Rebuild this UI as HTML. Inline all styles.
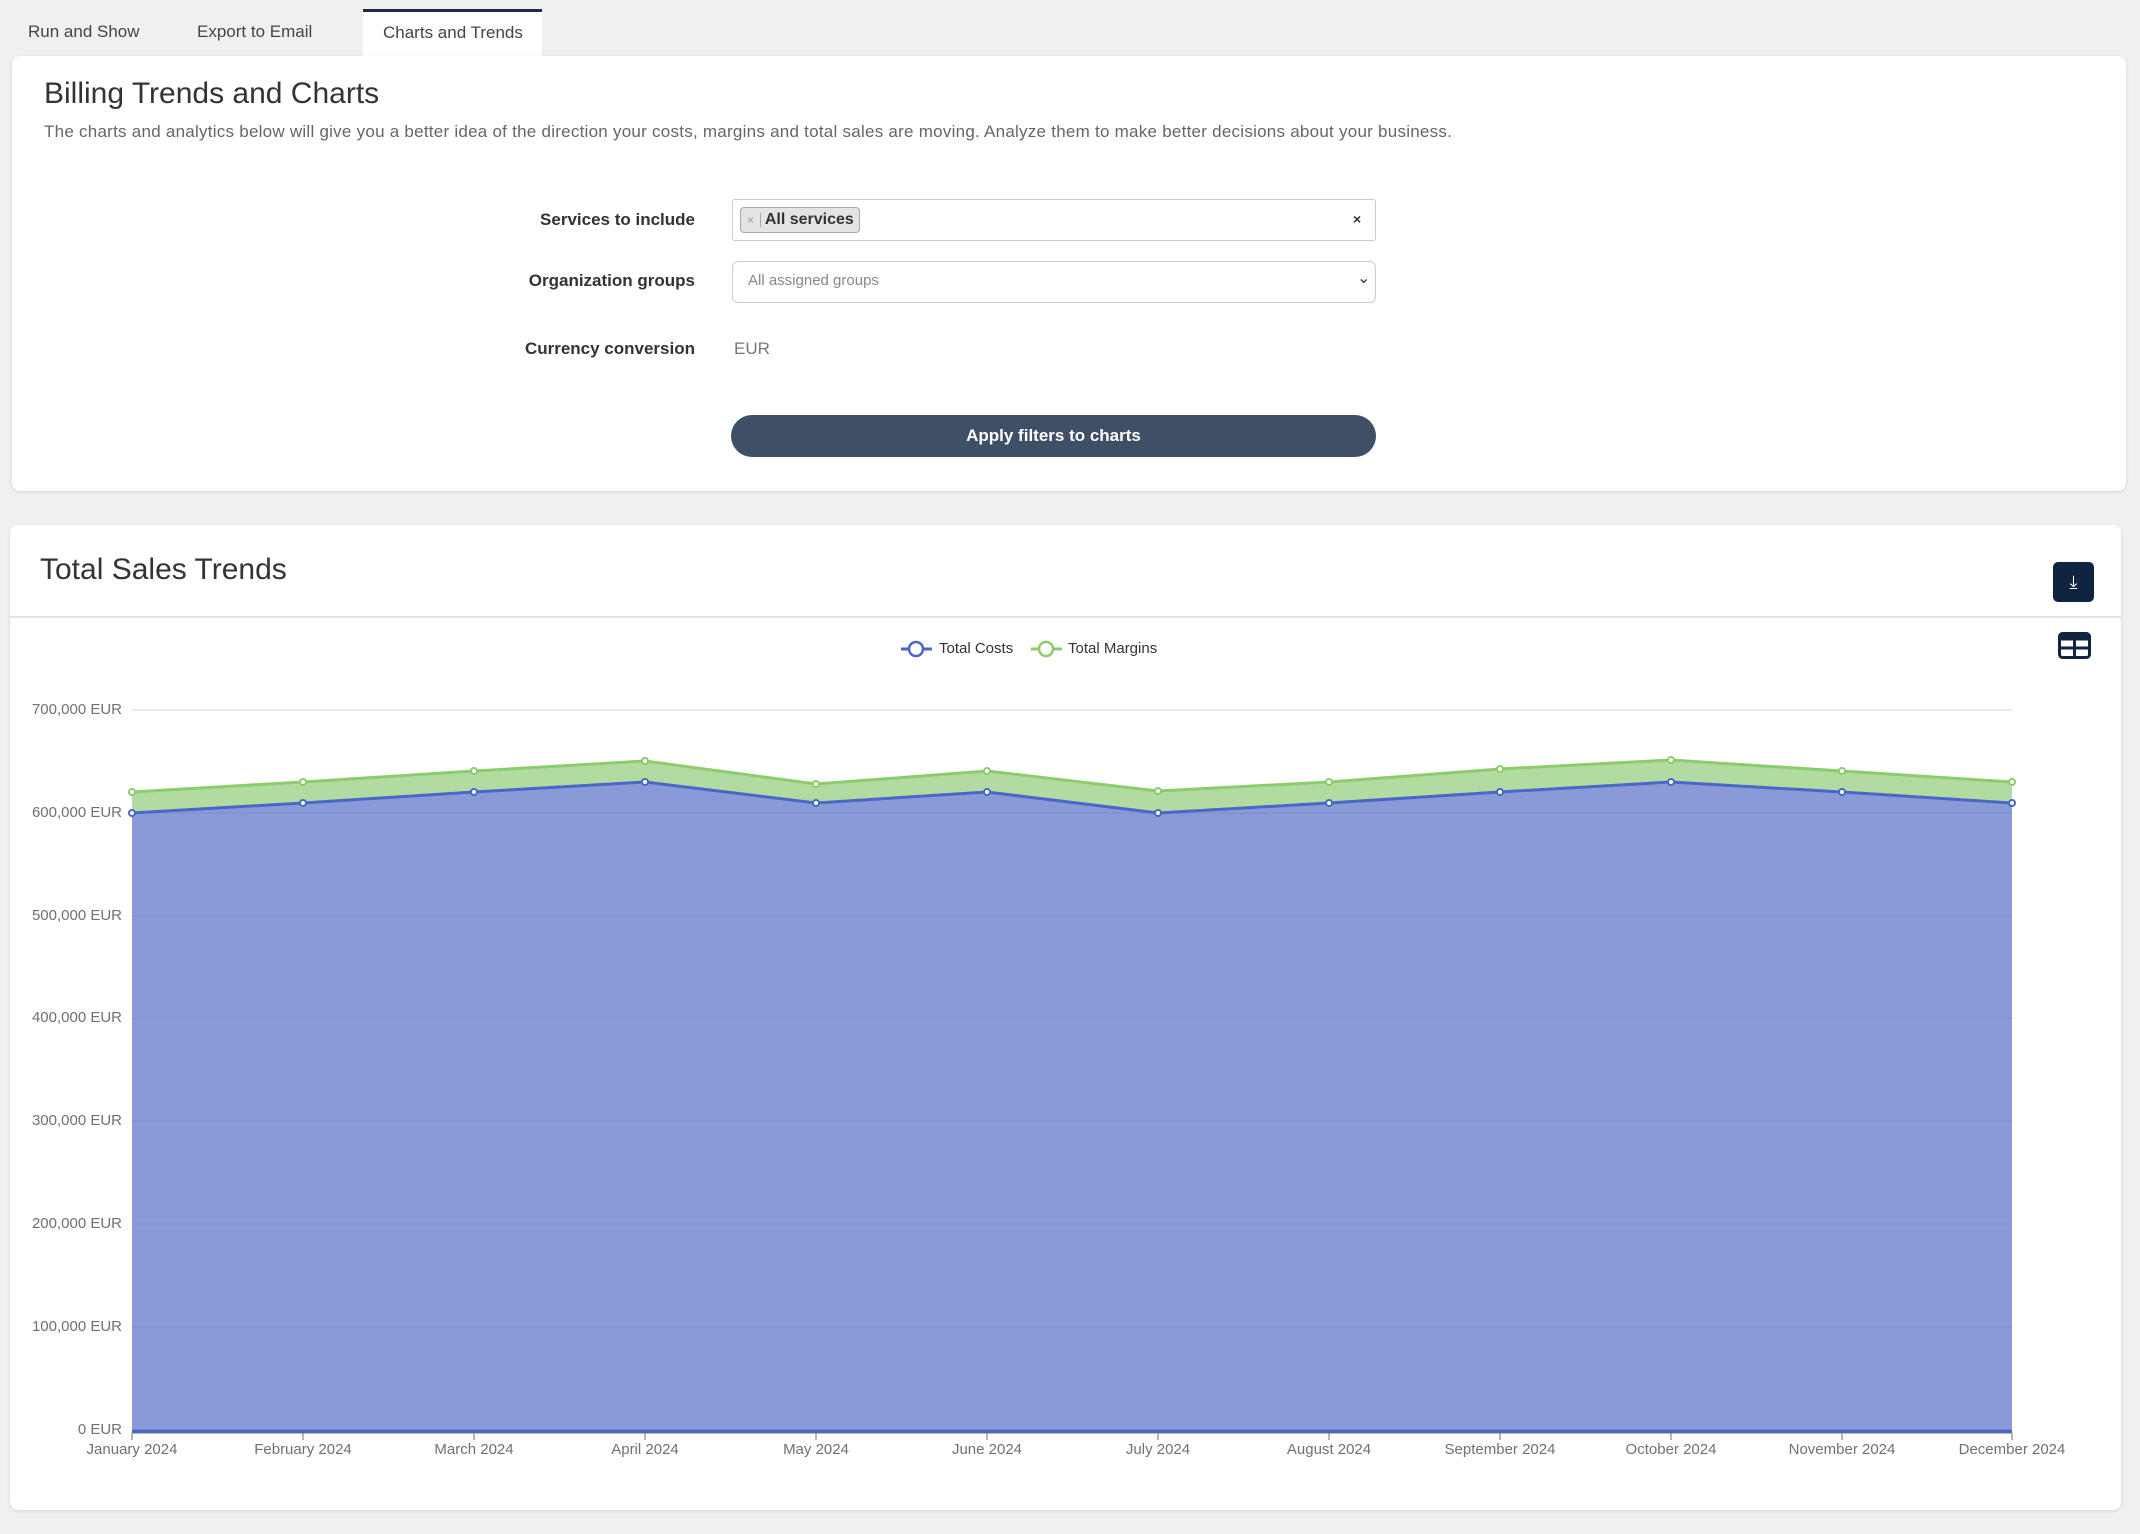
<!DOCTYPE html>
<html><head><meta charset="utf-8"><style>
body{margin:0;width:2140px;height:1534px;background:#f0f0f0;font-family:"Liberation Sans",sans-serif;position:relative;overflow:hidden;color:#333}
.a{position:absolute}
.tab{font-size:17px;color:#444;top:22px}
.card{background:#fff;border-radius:8px;box-shadow:0 1px 3px rgba(0,0,0,.12)}
.lbl{font-size:17px;font-weight:bold;color:#333;text-align:right;width:300px;left:395px}
</style></head><body>
<div class="a tab" style="left:28px">Run and Show</div>
<div class="a tab" style="left:197px">Export to Email</div>
<div class="a" style="left:363px;top:9px;width:179px;height:50px;background:#fff;border-top:3px solid #1d2b44"></div>
<div class="a tab" style="left:383px;top:23px">Charts and Trends</div>

<div class="a card" style="left:12px;top:56px;width:2114px;height:435px"></div>
<div class="a" style="left:44px;top:77px;font-size:30px;color:#333">Billing Trends and Charts</div>
<div class="a" style="left:44px;top:122px;font-size:17px;color:#666;letter-spacing:0.25px">The charts and analytics below will give you a better idea of the direction your costs, margins and total sales are moving. Analyze them to make better decisions about your business.</div>
<div class="a lbl" style="top:210px">Services to include</div>
<div class="a" style="left:732px;top:199px;width:642px;height:40px;border:1px solid #ccc;border-radius:3px;background:#fff"></div>
<div class="a" style="left:740px;top:207px;width:118px;height:24px;border:1px solid #aaa;border-radius:4px;background:#e4e4e4;font-size:16px;font-weight:bold;line-height:24px"><span style="color:#999;font-weight:normal;font-size:12px;padding:0 6px;border-right:1px solid #aaa">×</span> All services</div>
<div class="a" style="left:1353px;top:211px;font-size:14px;font-weight:bold">×</div>
<div class="a lbl" style="top:271px">Organization groups</div>
<div class="a" style="left:732px;top:261px;width:642px;height:40px;border:1px solid #ccc;border-radius:6px;background:#fff"></div>
<div class="a" style="left:748px;top:272px;font-size:15px;color:#888">All assigned groups</div>
<div class="a" style="left:1357px;top:268px;font-size:16px;color:#333">⌄</div>
<div class="a lbl" style="top:339px">Currency conversion</div>
<div class="a" style="left:734px;top:339px;font-size:17px;color:#777">EUR</div>
<div class="a" style="left:731px;top:415px;width:645px;height:42px;border-radius:21px;background:#3f5066;color:#fff;font-size:17px;font-weight:bold;text-align:center;line-height:42px">Apply filters to charts</div>

<div class="a card" style="left:10px;top:525px;width:2111px;height:985px"></div>
<div class="a" style="left:40px;top:553px;font-size:30px;color:#333">Total Sales Trends</div>
<div class="a" style="left:10px;top:616px;width:2111px;height:2px;background:#e2e2e2"></div>
<div class="a" style="left:2053px;top:562px;width:41px;height:40px;border-radius:5px;background:#0f2440;color:#fff;text-align:center;line-height:40px;font-size:18px">⤓</div>
<svg class="a" style="left:2058px;top:632px" width="33" height="27"><rect x="1.5" y="1.5" width="30" height="24" rx="3" fill="none" stroke="#0f2440" stroke-width="3"/><rect x="1.5" y="1.5" width="30" height="7" fill="#0f2440"/><line x1="16.5" y1="2" x2="16.5" y2="25" stroke="#0f2440" stroke-width="3"/><line x1="2" y1="16" x2="31" y2="16" stroke="#0f2440" stroke-width="3"/></svg>

<svg class="a" style="left:0;top:0" width="2140" height="1534" font-family="Liberation Sans, sans-serif">
<g stroke="#e0e6f1" stroke-width="1.5">
<line x1="132" x2="2012" y1="710" y2="710"/>
</g>
<polygon fill="#b2dba1" points="132,792 303,782 474,771 645,761 816,784 987,771 1158,791 1329,782 1500,769 1671,760 1842,771 2012,782 2012,803 1842,792 1671,782 1500,792 1329,803 1158,813 987,792 816,803 645,782 474,792 303,803 132,813"/>
<polygon fill="#8a9ad8" points="132,813 303,803 474,792 645,782 816,803 987,792 1158,813 1329,803 1500,792 1671,782 1842,792 2012,803 2012,1430 132,1430"/>
<g stroke="#7f90d2" stroke-width="1.2">
<line x1="132" x2="2012" y1="813" y2="813"/><line x1="132" x2="2012" y1="916" y2="916"/><line x1="132" x2="2012" y1="1018" y2="1018"/><line x1="132" x2="2012" y1="1121" y2="1121"/><line x1="132" x2="2012" y1="1224" y2="1224"/><line x1="132" x2="2012" y1="1327" y2="1327"/>
</g>
<polyline fill="none" stroke="#8ccc6c" stroke-width="3" points="132,792 303,782 474,771 645,761 816,784 987,771 1158,791 1329,782 1500,769 1671,760 1842,771 2012,782"/>
<polyline fill="none" stroke="#4a66c8" stroke-width="3" points="132,813 303,803 474,792 645,782 816,803 987,792 1158,813 1329,803 1500,792 1671,782 1842,792 2012,803"/>
<g fill="#fff" stroke="#8ccc6c" stroke-width="2">
<circle cx="132" cy="792" r="3"/><circle cx="303" cy="782" r="3"/><circle cx="474" cy="771" r="3"/><circle cx="645" cy="761" r="3"/><circle cx="816" cy="784" r="3"/><circle cx="987" cy="771" r="3"/><circle cx="1158" cy="791" r="3"/><circle cx="1329" cy="782" r="3"/><circle cx="1500" cy="769" r="3"/><circle cx="1671" cy="760" r="3"/><circle cx="1842" cy="771" r="3"/><circle cx="2012" cy="782" r="3"/>
</g>
<g fill="#fff" stroke="#4a66c8" stroke-width="2">
<circle cx="132" cy="813" r="3"/><circle cx="303" cy="803" r="3"/><circle cx="474" cy="792" r="3"/><circle cx="645" cy="782" r="3"/><circle cx="816" cy="803" r="3"/><circle cx="987" cy="792" r="3"/><circle cx="1158" cy="813" r="3"/><circle cx="1329" cy="803" r="3"/><circle cx="1500" cy="792" r="3"/><circle cx="1671" cy="782" r="3"/><circle cx="1842" cy="792" r="3"/><circle cx="2012" cy="803" r="3"/>
</g>
<line x1="132" x2="2012" y1="1431" y2="1431" stroke="#4a66c8" stroke-width="3"/>
<line x1="132" x2="2012" y1="1433" y2="1433" stroke="#6e7079" stroke-width="1"/>
<g stroke="#6e7079"><line x1="132" x2="132" y1="1433" y2="1440"/><line x1="303" x2="303" y1="1433" y2="1440"/><line x1="474" x2="474" y1="1433" y2="1440"/><line x1="645" x2="645" y1="1433" y2="1440"/><line x1="816" x2="816" y1="1433" y2="1440"/><line x1="987" x2="987" y1="1433" y2="1440"/><line x1="1158" x2="1158" y1="1433" y2="1440"/><line x1="1329" x2="1329" y1="1433" y2="1440"/><line x1="1500" x2="1500" y1="1433" y2="1440"/><line x1="1671" x2="1671" y1="1433" y2="1440"/><line x1="1842" x2="1842" y1="1433" y2="1440"/><line x1="2012" x2="2012" y1="1433" y2="1440"/></g>
<g font-size="15" fill="#6e7079" text-anchor="end">
<text x="122" y="714">700,000 EUR</text><text x="122" y="817">600,000 EUR</text><text x="122" y="920">500,000 EUR</text><text x="122" y="1022">400,000 EUR</text><text x="122" y="1125">300,000 EUR</text><text x="122" y="1228">200,000 EUR</text><text x="122" y="1331">100,000 EUR</text><text x="122" y="1434">0 EUR</text>
</g>
<g font-size="15" fill="#6e7079" text-anchor="middle">
<text x="132" y="1454">January 2024</text><text x="303" y="1454">February 2024</text><text x="474" y="1454">March 2024</text><text x="645" y="1454">April 2024</text><text x="816" y="1454">May 2024</text><text x="987" y="1454">June 2024</text><text x="1158" y="1454">July 2024</text><text x="1329" y="1454">August 2024</text><text x="1500" y="1454">September 2024</text><text x="1671" y="1454">October 2024</text><text x="1842" y="1454">November 2024</text><text x="2012" y="1454">December 2024</text>
</g>
<line x1="901" x2="932" y1="649" y2="649" stroke="#4a66c8" stroke-width="3"/><circle cx="916" cy="649" r="7" fill="#fff" stroke="#4a66c8" stroke-width="2.5"/>
<text x="939" y="653" font-size="15" fill="#333">Total Costs</text>
<line x1="1031" x2="1062" y1="649" y2="649" stroke="#8ccc6c" stroke-width="3"/><circle cx="1046" cy="649" r="7" fill="#fff" stroke="#8ccc6c" stroke-width="2.5"/>
<text x="1068" y="653" font-size="15" fill="#333">Total Margins</text>
</svg>
</body></html>
